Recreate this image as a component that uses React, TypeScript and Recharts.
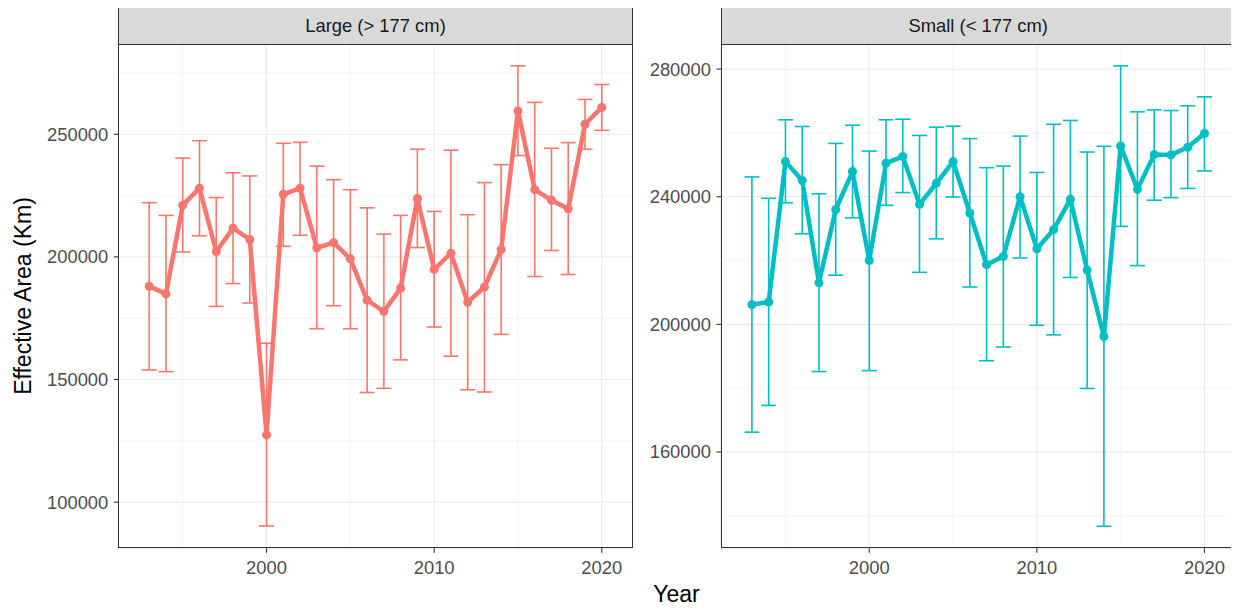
import React from 'react';
import {
  ComposedChart,
  Line,
  ErrorBar,
  XAxis,
  YAxis,
  CartesianGrid,
} from 'recharts';

const years = [
  1993, 1994, 1995, 1996, 1997, 1998, 1999, 2000, 2001, 2002, 2003, 2004, 2005, 2006,
  2007, 2008, 2009, 2010, 2011, 2012, 2013, 2014, 2015, 2016, 2017, 2018, 2019, 2020,
];

const largeMean = [
  188000, 184900, 221100, 228000, 202200, 211700, 207100, 127400, 225500, 228000, 203700,
  205800, 199200, 182300, 177800, 187300, 223800, 194900, 201500, 181500, 187700, 203000,
  259500, 227400, 223100, 219600, 254100, 260900,
];
const largeLow = [
  153900, 153200, 202000, 208600, 179800, 189100, 181200, 90300, 204300, 208800, 170700,
  180100, 170700, 144700, 146400, 158000, 203800, 171400, 159500, 145800, 144900, 168400,
  241300, 192000, 202600, 192800, 243900, 251600,
];
const largeHigh = [
  222100, 216900, 240300, 247400, 224200, 234300, 233000, 164800, 246300, 246700, 237000,
  231500, 227400, 220000, 209300, 216900, 243900, 218500, 243500, 217200, 230300, 237600,
  277900, 263000, 244300, 246600, 264200, 270300,
];

const smallMean = [
  206200, 207000, 251000, 245100, 213000, 236000, 247900, 220000, 250500, 252600, 237600,
  244200, 251000, 234900, 218700, 221300, 240000, 223700, 229700, 239200, 217000, 196200,
  255900, 242300, 253200, 253100, 255500, 259800,
];
const smallLow = [
  166200, 174600, 238100, 228400, 185200, 215400, 233400, 185500, 237300, 241300, 216300,
  226800, 239900, 211700, 188600, 192900, 220800, 199700, 196700, 214700, 179900, 136700,
  230700, 218400, 238900, 239700, 242600, 248100,
];
const smallHigh = [
  246200, 239500, 264100, 262000, 240900, 256700, 262400, 254300, 264100, 264300, 259200,
  261800, 262100, 258200, 249100, 249600, 259000, 247600, 262700, 263900, 254000, 255800,
  281000, 266600, 267200, 267000, 268500, 271300,
];

const xTicks = [2000, 2010, 2020];
const xMinor = [1995, 2005, 2015];
const largeTicks = [100000, 150000, 200000, 250000];
const largeMinor = [125000, 175000, 225000, 275000];
const smallTicks = [160000, 200000, 240000, 280000];
const smallMinor = [140000, 180000, 220000, 260000];

const FONT = '"Liberation Sans", Arial, sans-serif';

const buildRows = (mean: number[], low: number[], high: number[]) =>
  years.map((year, i) => ({
    year,
    mean: mean[i],
    err: [mean[i] - low[i], high[i] - mean[i]],
  }));

const largeRows = buildRows(largeMean, largeLow, largeHigh);
const smallRows = buildRows(smallMean, smallLow, smallHigh);

interface PanelProps {
  rows: { year: number; mean: number; err: number[] }[];
  color: string;
  title: string;
  left: number;
  axisWidth: number;
  plotWidth: number;
  yDomain: [number, number];
  yTicks: number[];
  yMinor: number[];
}

const PANEL_TOP = 44;
const PANEL_BOTTOM = 548.3;
const H = 611;

const Panel: React.FC<PanelProps> = ({
  rows, color, title, left, axisWidth, plotWidth, yDomain, yTicks, yMinor,
}) => {
  const width = axisWidth + plotWidth + 2;
  const plotLeft = left + axisWidth;
  const tickStyle = { fontSize: 18.4, fill: '#4D4D4D', fontFamily: FONT };
  return (
    <>
      <div style={{ position: 'absolute', left, top: 0 }}>
        <ComposedChart
          width={width}
          height={H}
          data={rows}
          margin={{ top: PANEL_TOP, right: 2, left: 0, bottom: 0 }}
        >
          <CartesianGrid
            stroke="#EBEBEB"
            strokeWidth={0.6}
            horizontalValues={yMinor}
            verticalValues={xMinor}
          />
          <CartesianGrid stroke="#EBEBEB" strokeWidth={1.2} />
          <XAxis
            dataKey="year"
            type="number"
            domain={[1991.155, 2021.845]}
            ticks={xTicks}
            allowDataOverflow
            axisLine={false}
            tickSize={4.5}
            tickMargin={8}
            tickLine={{ stroke: '#333333', strokeWidth: 1.1 }}
            tick={tickStyle}
            height={H - PANEL_BOTTOM}
          />
          <YAxis
            type="number"
            domain={yDomain}
            ticks={yTicks}
            allowDataOverflow
            axisLine={false}
            tickSize={4.5}
            tickMargin={5.5}
            tickLine={{ stroke: '#333333', strokeWidth: 1.1 }}
            tick={tickStyle}
            width={axisWidth}
          />
          <Line
            dataKey="mean"
            type="linear"
            stroke={color}
            strokeWidth={4.5}
            dot={{ r: 4.5, fill: color, stroke: color, strokeWidth: 0 }}
            activeDot={false}
            isAnimationActive={false}
          >
            <ErrorBar
              dataKey="err"
              direction="y"
              width={7.5}
              stroke={color}
              strokeWidth={1.6}
              isAnimationActive={false}
            />
          </Line>
        </ComposedChart>
      </div>
      <div
        style={{
          position: 'absolute',
          left: plotLeft,
          top: 7,
          width: plotWidth,
          height: PANEL_TOP - 7,
          boxSizing: 'border-box',
          background: '#D9D9D9',
          border: '1px solid #333333',
          borderBottom: 'none',
          display: 'flex',
          alignItems: 'center',
          justifyContent: 'center',
          fontFamily: FONT,
          fontSize: 18.4,
          color: '#1A1A1A',
        }}
      >
        {title}
      </div>
      <div
        style={{
          position: 'absolute',
          left: plotLeft,
          top: PANEL_TOP,
          width: plotWidth,
          height: PANEL_BOTTOM - PANEL_TOP,
          boxSizing: 'border-box',
          border: '1.2px solid #333333',
          pointerEvents: 'none',
        }}
      />
    </>
  );
};

export default function App() {
  return (
    <div
      style={{
        position: 'relative',
        width: 1239,
        height: 611,
        margin: -8,
        background: '#FFFFFF',
        overflow: 'hidden',
      }}
    >
      <Panel
        rows={largeRows}
        color="#F8766D"
        title="Large (> 177 cm)"
        left={0}
        axisWidth={118.3}
        plotWidth={514.4}
        yDomain={[81170, 286800]}
        yTicks={largeTicks}
        yMinor={largeMinor}
      />
      <Panel
        rows={smallRows}
        color="#00BFC4"
        title="Small (< 177 cm)"
        left={600}
        axisWidth={121}
        plotWidth={514.4}
        yDomain={[129810, 287860]}
        yTicks={smallTicks}
        yMinor={smallMinor}
      />
      <div
        style={{
          position: 'absolute',
          left: 22.5,
          top: 296,
          transform: 'translate(-50%, -50%) rotate(-90deg)',
          whiteSpace: 'nowrap',
          fontFamily: FONT,
          fontSize: 23,
          color: '#000000',
        }}
      >
        Effective Area (Km)
      </div>
      <div
        style={{
          position: 'absolute',
          left: 676.5,
          top: 594,
          transform: 'translate(-50%, -50%)',
          whiteSpace: 'nowrap',
          fontFamily: FONT,
          fontSize: 23,
          color: '#000000',
        }}
      >
        Year
      </div>
    </div>
  );
}
